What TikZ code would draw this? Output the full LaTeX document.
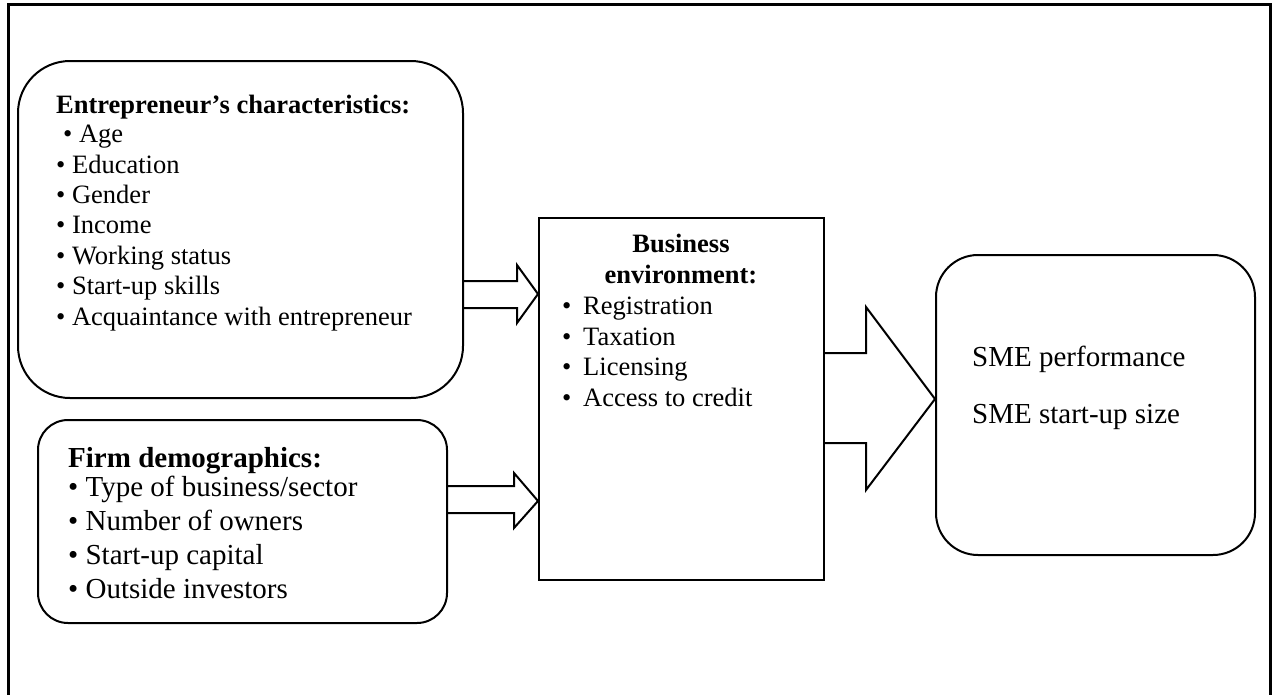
\documentclass[tikz,border=0pt]{standalone}
\usepackage{fontspec}
\setmainfont{Liberation Serif}

\begin{document}
\begin{tikzpicture}[
        x=1pt, y=-1pt,
        frame/.style={draw, line width=3pt},
        roundbox/.style={
            draw,
            line width=2pt,
            inner sep=0pt,
            anchor=north west,
        },
        fat/.style={draw, line width=2pt, line join=miter},
        smalltext/.style={font=\fontsize{26.5}{30.4}\selectfont, inner sep=0pt, align=left, anchor=base west},
        bigtext/.style={font=\fontsize{29}{34}\selectfont, inner sep=0pt, align=left, anchor=base west},
    ]

    \useasboundingbox (0,0) rectangle (1272,694);
    \draw [frame] (8,4) rectangle (1270,720);

    % the four boxes
    \node (ent) at (17,60) [roundbox, rounded corners=52pt, minimum width=445pt, minimum height=337pt] {};
    \node (firm) at (37,419) [roundbox, rounded corners=30pt, minimum width=409pt, minimum height=203pt] {};
    \node (env) at (538,217) [roundbox, minimum width=285pt, minimum height=362pt] {};
    \node (sme) at (935,254) [roundbox, rounded corners=42pt, minimum width=319pt, minimum height=300pt] {};

    % their texts (placed by the baseline of the last line)
    \node (entx) at (56,325) [smalltext] {\textbf{Entrepreneur’s characteristics:}\\[-1.4pt]
        \hspace*{7pt}• Age\\ • Education\\ • Gender\\ • Income\\ • Working status\\
        • Start-up skills\\ • Acquaintance with entrepreneur};
    \node (firmx) at (68,598) [bigtext] {\textbf{Firm demographics:}\\[-5pt]
        • Type of business/sector\\ • Number of owners\\ • Start-up capital\\ • Outside investors};
    \node (envh) at (681,283) [smalltext, anchor=base, align=center] {\textbf{Business}\\ \textbf{environment:}};
    \node (envx) at (562,406) [smalltext] {\makebox[21pt][l]{•}Registration\\
        \makebox[21pt][l]{•}Taxation\\ \makebox[21pt][l]{•}Licensing\\ \makebox[21pt][l]{•}Access to credit};
    \node (smex) at (972,423) [bigtext] {SME performance\\[23pt] SME start-up size};

    % block arrows
    \draw [fat] (ent.east |- 0,281) -- (517,281) -- (517,265) -- (env.west |- 0,294)
        -- (517,323) -- (517,308) -- (ent.east |- 0,308);
    \draw [fat] (firm.east |- 0,486) -- (514,486) -- (514,473) -- (env.west |- 0,501)
        -- (514,528) -- (514,513) -- (firm.east |- 0,513);
    \draw [fat] (env.east |- 0,353) -- (866,353) -- (866,307) -- (sme.west |- 0,399)
        -- (866,490) -- (866,443) -- (env.east |- 0,443);

\end{tikzpicture}
\end{document}
